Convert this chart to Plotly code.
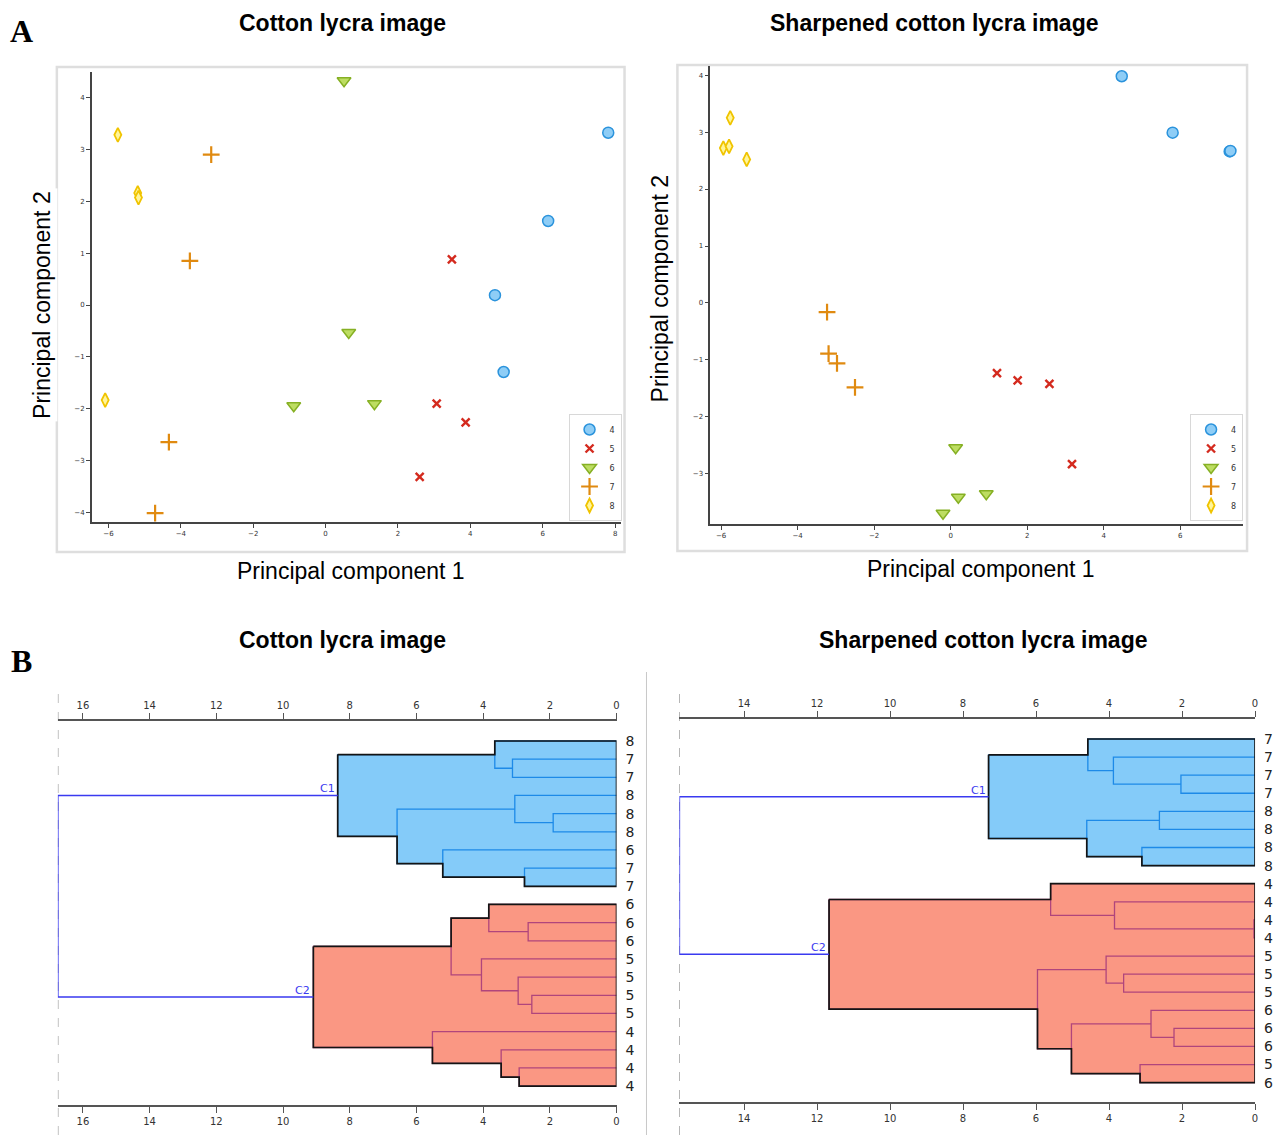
import plotly.graph_objects as go

W, H = 1276, 1135

# ---------------- Panel A : PCA score plots ----------------
pca_classes = ["4", "5", "6", "7", "8"]

cotton_class = ["4"] * 4 + ["5"] * 4 + ["6"] * 4 + ["7"] * 4 + ["8"] * 4
cotton_pc1 = [7.81, 6.15, 4.68, 4.92,
              3.49, 3.07, 3.87, 2.60,
              0.51, 0.64, -0.88, 1.35,
              -3.16, -3.75, -4.33, -4.71,
              -5.74, -5.19, -5.17, -6.09]
cotton_pc2 = [3.32, 1.62, 0.19, -1.29,
              0.88, -1.90, -2.26, -3.31,
              4.32, -0.53, -1.94, -1.90,
              2.90, 0.85, -2.64, -4.01,
              3.28, 2.16, 2.07, -1.83]

sharp_class = ["4"] * 4 + ["5"] * 4 + ["6"] * 4 + ["7"] * 4 + ["8"] * 4
sharp_pc1 = [4.47, 5.80, 7.29, 7.31,
             1.21, 1.75, 2.58, 3.17,
             0.13, 0.20, 0.93, -0.20,
             -3.23, -3.19, -2.97, -2.50,
             -5.76, -5.94, -5.79, -5.33]
sharp_pc2 = [3.98, 2.99, 2.66, 2.67,
             -1.23, -1.36, -1.42, -2.83,
             -2.54, -3.41, -3.35, -3.69,
             -0.16, -0.89, -1.06, -1.48,
             3.25, 2.72, 2.75, 2.52]

# ---------------- Panel B : dendrograms ----------------
cotton_leaf_labels = ["8", "7", "7", "8", "8", "8", "6", "7", "7",
                      "6", "6", "6", "5", "5", "5", "5", "4", "4", "4", "4"]
# merges (scipy-like): node id = n_leaves + merge index
cotton_merge_a = [1, 0, 4, 3, 7, 6, 23, 21, 10, 9, 14, 13, 12, 29, 18, 17, 16, 33, 27]
cotton_merge_b = [2, 20, 5, 22, 8, 24, 25, 26, 11, 28, 15, 30, 31, 32, 19, 34, 35, 36, 37]
cotton_merge_h = [3.12, 3.65, 1.90, 3.05, 2.76, 5.21, 6.58, 8.36, 2.65, 3.83,
                  2.54, 2.95, 4.05, 4.96, 2.92, 3.46, 5.52, 9.09, 16.75]

sharp_leaf_labels = ["7", "7", "7", "7", "8", "8", "8", "8",
                     "4", "4", "4", "4", "5", "5", "5", "6", "6", "6", "5", "6"]
sharp_merge_a = [2, 1, 0, 4, 6, 23, 22, 10, 9, 8, 13, 12, 16, 15, 18, 33, 31, 29, 26]
sharp_merge_b = [3, 20, 21, 5, 7, 24, 25, 11, 27, 28, 14, 30, 17, 32, 19, 34, 35, 36, 37]
sharp_merge_h = [2.03, 3.88, 4.58, 2.62, 3.10, 4.61, 7.30, 0.03, 3.85, 5.60,
                 3.60, 4.08, 2.22, 2.85, 3.15, 5.03, 5.96, 11.67, 15.77]

cluster_names = ["C1", "C2"]
dendro_ticks = [0, 2, 4, 6, 8, 10, 12, 14, 16]

# ---------------- styles ----------------
marker_styles = {
    "4": dict(symbol="circle", size=11, color="#8ecdf6", line=dict(color="#2b93dc", width=1.5)),
    "5": dict(symbol="x-thin", size=8, color="#d42a1e", line=dict(color="#d42a1e", width=2.4)),
    "6": dict(symbol="triangle-down", size=12, color="#bddd62", line=dict(color="#86b024", width=1.5)),
    "7": dict(symbol="cross-thin", size=12, color="#e08a10", line=dict(color="#e08a10", width=2.2)),
    "8": dict(symbol="diamond-tall", size=10, color="#fff59a", line=dict(color="#f0c400", width=1.8)),
}
cluster_fill = ["#84cbf9", "#fa9783"]
cluster_inner = ["#1d8ae8", "#b0457c"]
outline_color = "#141414"
link_color = "#3a3af0"
SANS = "Liberation Sans, Arial, sans-serif"
TICKF = "DejaVu Sans, Verdana, sans-serif"


def px(x):
    return x / W


def py(y):
    return 1 - y / H


fig = go.Figure()

# ---------- scatter traces ----------
for pc1, pc2, cls, xa, ya, leg in [
    (cotton_pc1, cotton_pc2, cotton_class, "x", "y", "legend"),
    (sharp_pc1, sharp_pc2, sharp_class, "x2", "y2", "legend2"),
]:
    for c in pca_classes:
        xs = [a for a, k in zip(pc1, cls) if k == c]
        ys = [b for b, k in zip(pc2, cls) if k == c]
        fig.add_trace(go.Scatter(
            x=xs, y=ys, mode="markers", name=c, xaxis=xa, yaxis=ya,
            legend=leg, marker=marker_styles[c], hoverinfo="x+y+name",
        ))


# ---------- dendrogram traces ----------
def build(n_leaves, ma, mb, mh):
    h = [0.0] * n_leaves + list(mh)
    ch = [None] * n_leaves + list(zip(ma, mb))
    y = [float(i) for i in range(n_leaves)] + [0.0] * len(mh)
    for k in range(len(mh)):
        y[n_leaves + k] = (y[ma[k]] + y[mb[k]]) / 2
    return h, ch, y


def internal_nodes(n, ch):
    if ch[n] is None:
        return []
    a, b = ch[n]
    return [n] + internal_nodes(a, ch) + internal_nodes(b, ch)


def edge(n, h, ch, y, top=True):
    pts = []
    cur = n
    while ch[cur] is not None:
        a, b = ch[cur]
        c = (a if y[a] < y[b] else b) if top else (a if y[a] > y[b] else b)
        pts.append((h[cur], y[c]))
        pts.append((h[c], y[c]))
        cur = c
    return pts


def add_dendro(labels, ma, mb, mh, xa, xa_top, ya):
    n = len(labels)
    h, ch, y = build(n, ma, mb, mh)
    root = len(h) - 1
    c1, c2 = ch[root]
    for ci, cnode in enumerate([c1, c2]):
        poly = edge(cnode, h, ch, y, True) + edge(cnode, h, ch, y, False)[::-1]
        fig.add_trace(go.Scatter(
            x=[p[0] for p in poly], y=[p[1] for p in poly], fill="toself",
            fillcolor=cluster_fill[ci], mode="lines", line=dict(width=0),
            xaxis=xa, yaxis=ya, showlegend=False, hoverinfo="skip"))
        lx, ly = [], []
        for node in internal_nodes(cnode, ch):
            a, b = ch[node]
            lx += [h[a], h[node], h[node], h[b], None]
            ly += [y[a], y[a], y[b], y[b], None]
        fig.add_trace(go.Scatter(
            x=lx, y=ly, mode="lines", line=dict(color=cluster_inner[ci], width=1.3),
            xaxis=xa, yaxis=ya, showlegend=False, hoverinfo="skip"))
        closed = poly + [poly[0]]
        fig.add_trace(go.Scatter(
            x=[p[0] for p in closed], y=[p[1] for p in closed], mode="lines",
            line=dict(color=outline_color, width=1.7),
            xaxis=xa, yaxis=ya, showlegend=False, hoverinfo="skip"))
        fig.add_annotation(x=h[cnode], y=y[cnode], xref=xa, yref=ya,
                           text=cluster_names[ci], showarrow=False,
                           xanchor="right", yanchor="bottom", xshift=-1, yshift=-2,
                           font=dict(family=TICKF, size=11, color=link_color))
    fig.add_trace(go.Scatter(
        x=[h[c1], h[root], h[root], h[c2]], y=[y[c1], y[c1], y[c2], y[c2]],
        mode="lines", line=dict(color=link_color, width=1.5),
        xaxis=xa_top, yaxis=ya, showlegend=False, hoverinfo="skip"))
    return h[root], n


left_root, left_n = add_dendro(cotton_leaf_labels, cotton_merge_a, cotton_merge_b,
                               cotton_merge_h, "x3", "x4", "y3")
right_root, right_n = add_dendro(sharp_leaf_labels, sharp_merge_a, sharp_merge_b,
                                 sharp_merge_h, "x5", "x6", "y5")

# ---------- axes ----------
sc_axis = dict(showgrid=False, zeroline=False, showline=True, linecolor="#444",
               linewidth=1.5, ticks="outside", ticklen=4, tickcolor="#444",
               tickfont=dict(family=TICKF, size=7, color="#333"))

dn_axis = dict(showgrid=False, zeroline=False, showline=True, linecolor="#555",
               linewidth=1.5, ticks="outside", ticklen=6, tickcolor="#555",
               tickvals=dendro_ticks, tickfont=dict(family=TICKF, size=10, color="#333"))

leaf_axis = dict(side="right", showgrid=False, zeroline=False, showline=False, ticks="",
                 ticklabelstandoff=8, tickfont=dict(family=TICKF, size=14, color="#222"))

fig.update_layout(
    width=W, height=H, margin=dict(l=0, r=0, t=0, b=0),
    paper_bgcolor="white", plot_bgcolor="white",
    xaxis=dict(domain=[px(92), px(622)], range=[-6.46, 8.15], dtick=2, anchor="y", **sc_axis),
    yaxis=dict(domain=[py(522), py(72)], range=[-4.18, 4.49], dtick=1, anchor="x", **sc_axis),
    xaxis2=dict(domain=[px(712), px(1246)], range=[-6.28, 7.64], dtick=2, anchor="y2", **sc_axis),
    yaxis2=dict(domain=[py(524), py(66)], range=[-3.88, 4.16], dtick=1, anchor="x2", **sc_axis),
    xaxis3=dict(domain=[px(58), px(618)], range=[left_root, 0], anchor="y3", side="bottom", **dn_axis),
    xaxis4=dict(range=[left_root, 0], overlaying="x3", anchor="y3", side="top", **dn_axis),
    yaxis3=dict(domain=[py(1105), py(721)], range=[left_n + 0.04, -1.10], anchor="x3",
                tickvals=list(range(left_n)), ticktext=cotton_leaf_labels, **leaf_axis),
    xaxis5=dict(domain=[px(681), px(1258)], range=[right_root, 0], anchor="y5", side="bottom", **dn_axis),
    xaxis6=dict(range=[right_root, 0], overlaying="x5", anchor="y5", side="top", **dn_axis),
    yaxis5=dict(domain=[py(1102), py(719)], range=[right_n + 0.07, -1.106], anchor="x5",
                tickvals=list(range(right_n)), ticktext=sharp_leaf_labels, **leaf_axis),
    legend=dict(x=px(623), y=py(521), xanchor="right", yanchor="bottom",
                font=dict(family=TICKF, size=8, color="#333"), bgcolor="white",
                bordercolor="#d8d8d8", borderwidth=1, tracegroupgap=0, itemwidth=30),
    legend2=dict(x=px(1246), y=py(521), xanchor="right", yanchor="bottom",
                 font=dict(family=TICKF, size=8, color="#333"), bgcolor="white",
                 bordercolor="#d8d8d8", borderwidth=1, tracegroupgap=0, itemwidth=30),
)

# ---------- decorative frames / separators ----------
fig.add_shape(type="rect", xref="paper", yref="paper", x0=px(57), x1=px(626),
              y0=py(552), y1=py(67), line=dict(color="#dedede", width=2.5), layer="below")
fig.add_shape(type="rect", xref="paper", yref="paper", x0=px(679), x1=px(1250),
              y0=py(551), y1=py(65), line=dict(color="#dedede", width=2.5), layer="below")
fig.add_shape(type="line", xref="paper", yref="paper", x0=px(648), x1=px(648),
              y0=0, y1=py(672), line=dict(color="#c8c8c8", width=1))
fig.add_shape(type="line", xref="x3", yref="paper", x0=left_root, x1=left_root,
              y0=0, y1=py(690), line=dict(color="#777", width=1, dash="dash"), layer="below")
fig.add_shape(type="line", xref="x5", yref="paper", x0=right_root, x1=right_root,
              y0=0, y1=py(690), line=dict(color="#777", width=1, dash="dash"), layer="below")


# ---------- texts ----------
def txt(x, y, s, size, bold=False, family=SANS, angle=0, bg=None):
    fig.add_annotation(x=px(x), y=py(y), xref="paper", yref="paper", text=(f"<b>{s}</b>" if bold else s),
                       showarrow=False, xanchor="center", yanchor="middle", textangle=angle,
                       font=dict(family=family, size=size, color="black"),
                       bgcolor=bg, borderpad=2)


txt(343, 23, "Cotton lycra image", 23, bold=True)
txt(936, 23, "Sharpened cotton lycra image", 23, bold=True)
txt(343, 640, "Cotton lycra image", 23, bold=True)
txt(985, 640, "Sharpened cotton lycra image", 23, bold=True)
txt(22, 31, "A", 32, bold=True, family="Liberation Serif, Times New Roman, serif")
txt(22, 661, "B", 32, bold=True, family="Liberation Serif, Times New Roman, serif")
txt(42, 305, "Principal component 2", 23, angle=-90, bg="white")
txt(352, 571, "Principal component 1", 23, bg="white")
txt(662, 288, "Principal component 2", 23, angle=-90, bg="white")
txt(983, 569, "Principal component 1", 23, bg="white")

fig.write_html("out.html", config={"displayModeBar": False},
               post_script="document.body.style.margin='0';document.body.style.overflow='hidden';")
